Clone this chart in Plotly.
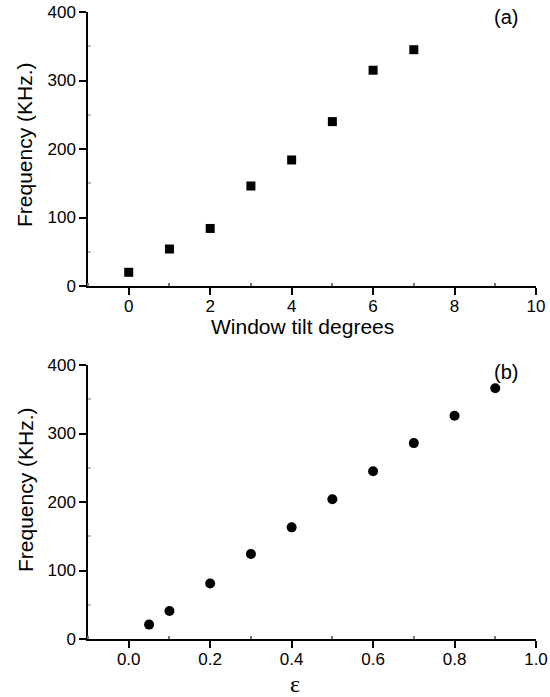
import plotly.graph_objects as go

tilt_deg = [0, 1, 2, 3, 4, 5, 6, 7]
freq_a = [20, 54, 84, 146, 184, 240, 315, 345]
eps = [0.05, 0.1, 0.2, 0.3, 0.4, 0.5, 0.6, 0.7, 0.8, 0.9]
freq_b = [21, 41, 81, 124, 163, 204, 245, 286, 326, 366]

W, H = 550, 697

FONT = "Liberation Sans, Arial, sans-serif"
SERIF = "Liberation Serif, Times New Roman, serif"


def px(x):
    return x / W


def py(y):
    return (H - y) / H


x0, x1 = px(88), px(536)
ya = [py(286), py(12)]
yb = [py(639), py(365)]

fig = go.Figure()
fig.add_trace(go.Scatter(x=tilt_deg, y=freq_a, mode="markers", xaxis="x", yaxis="y",
                         marker=dict(symbol="square", size=9, color="black"), showlegend=False))
fig.add_trace(go.Scatter(x=eps, y=freq_b, mode="markers", xaxis="x2", yaxis="y2",
                         marker=dict(symbol="circle", size=10, color="black"), showlegend=False))

common_ax = dict(showline=True, linecolor="black", linewidth=1.5, showgrid=False, zeroline=False,
                 ticks="outside", ticklen=7, tickwidth=1.5, tickcolor="black", automargin=False,
                 tickfont=dict(family=FONT, size=17, color="black"))

fig.update_layout(
    width=W, height=H, margin=dict(l=0, r=0, t=0, b=0),
    plot_bgcolor="white", paper_bgcolor="white",
    xaxis=dict(domain=[x0, x1], anchor="y", range=[-1, 10], tickvals=[0, 2, 4, 6, 8, 10],
               minor=dict(tickvals=[-1, 1, 3, 5, 7, 9], ticks="inside", ticklen=3, tickcolor="#777"),
               ticklabelstandoff=-3, **common_ax),
    yaxis=dict(domain=ya, anchor="x", range=[0, 400], tickvals=[0, 100, 200, 300, 400],
               minor=dict(tickvals=[50, 150, 250, 350], ticks="inside", ticklen=3, tickcolor="#bbb"),
               **common_ax),
    xaxis2=dict(domain=[x0, x1], anchor="y2", range=[-0.1, 1.0],
                tickvals=[0, 0.2, 0.4, 0.6, 0.8, 1.0], ticktext=["0.0", "0.2", "0.4", "0.6", "0.8", "1.0"],
                minor=dict(tickvals=[-0.1, 0.1, 0.3, 0.5, 0.7, 0.9], ticks="inside", ticklen=3, tickcolor="#777"),
                ticklabelstandoff=-3, **common_ax),
    yaxis2=dict(domain=yb, anchor="x2", range=[0, 400], tickvals=[0, 100, 200, 300, 400],
                minor=dict(tickvals=[50, 150, 250, 350], ticks="inside", ticklen=3, tickcolor="#bbb"),
                **common_ax),
)

ann = dict(xref="paper", yref="paper", showarrow=False, xanchor="center", yanchor="middle")
fig.add_annotation(text="(a)", x=px(506), y=py(17), font=dict(family=FONT, size=20, color="black"), **ann)
fig.add_annotation(text="(b)", x=px(506), y=py(372), font=dict(family=FONT, size=20, color="black"), **ann)
fig.add_annotation(text="Window tilt degrees", x=px(302), y=py(326),
                   font=dict(family=FONT, size=21, color="black"), **ann)
fig.add_annotation(text="Frequency (KHz.)", x=px(25), y=py(145), textangle=-90,
                   font=dict(family=FONT, size=21, color="black"), **ann)
fig.add_annotation(text="Frequency (KHz.)", x=px(25), y=py(490), textangle=-90,
                   font=dict(family=FONT, size=21, color="black"), **ann)
fig.add_annotation(text="ε", x=px(295), y=py(684), font=dict(family=SERIF, size=24, color="black"), **ann)

fig.write_html("out.html", config={"displayModeBar": False},
               post_script="document.body.style.margin='0';document.body.style.padding='0';")
